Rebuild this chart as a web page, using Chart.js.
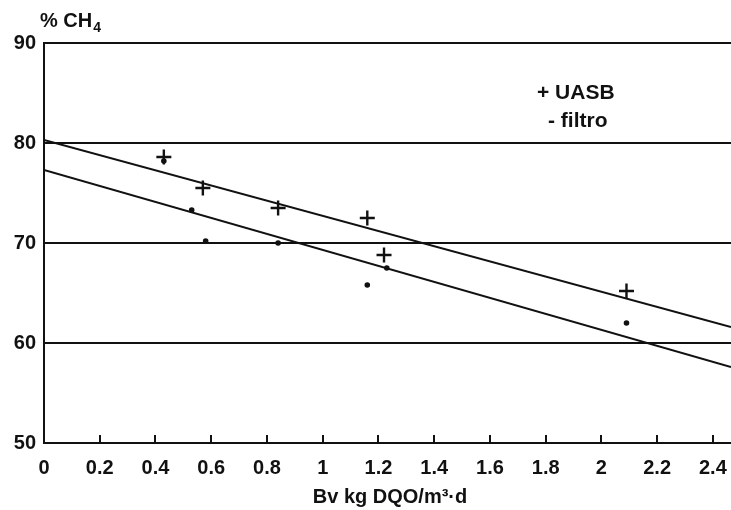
<!DOCTYPE html>
<html><head><meta charset="utf-8">
<script src="https://cdn.jsdelivr.net/npm/chart.js@4"></script>
<style>html,body{margin:0;padding:0;background:#fff}#wrap{width:731px;height:510px;position:relative}</style>
</head><body><div id="wrap"><canvas id="c"></canvas></div>
<script>
// Data
const uasbX = [0.43, 0.57, 0.84, 1.16, 1.22, 2.09];
const uasbY = [78.6, 75.5, 73.5, 72.5, 68.8, 65.2];
const filtroX = [0.43, 0.53, 0.58, 0.84, 1.16, 1.23, 2.09];
const filtroY = [78.2, 73.3, 70.2, 70.0, 65.8, 67.5, 62.0];
// Regression lines (end points)
const uasbFitX = [0, 2.465];
const uasbFitY = [80.3, 61.6];
const filtroFitX = [0, 2.465];
const filtroFitY = [77.3, 57.6];
const yTickValues = [50, 60, 70, 80, 90];
const xTickStep = 0.2;
const yLabel = ["% CH", "4"];
const xLabel = "Bv kg DQO/m\u00B3\u00B7d";
const legendLines = ["+ UASB", "- filtro"];

const toPts = (xs, ys) => xs.map((x, i) => ({x, y: ys[i]}));
const INK = '#111';
const FONT = '"Liberation Sans", Arial, sans-serif';

const decor = {
  id: 'decor',
  afterDraw(chart) {
    const ctx = chart.ctx, xs = chart.scales.x, ca = chart.chartArea;
    ctx.save();
    // inward x ticks
    ctx.strokeStyle = INK; ctx.lineWidth = 2;
    xs.ticks.forEach(t => {
      if (t.value === 0) return;
      const px = Math.round(xs.getPixelForValue(t.value));
      ctx.beginPath(); ctx.moveTo(px, ca.bottom); ctx.lineTo(px, ca.bottom - 8); ctx.stroke();
    });
    ctx.fillStyle = INK;
    // y axis label with subscript
    ctx.textBaseline = 'alphabetic'; ctx.textAlign = 'left';
    ctx.font = 'bold 20px ' + FONT;
    ctx.fillText(yLabel[0], 40, 27);
    const w = ctx.measureText(yLabel[0]).width;
    ctx.font = 'bold 14px ' + FONT;
    ctx.fillText(yLabel[1], 40 + w + 1, 32);
    // legend text
    ctx.font = 'bold 21px ' + FONT;
    ctx.textBaseline = 'middle';
    ctx.fillText(legendLines[0], 537, 93);
    ctx.fillText(legendLines[1], 548, 121);
    // x title
    ctx.font = 'bold 20px ' + FONT;
    ctx.textAlign = 'center';
    ctx.fillText(xLabel, 390, 497);
    ctx.restore();
  }
};

new Chart(document.getElementById('c'), {
  type: 'scatter',
  data: {
    datasets: [
      {label: 'UASB fit', data: toPts(uasbFitX, uasbFitY), showLine: true, borderColor: INK, borderWidth: 2, pointRadius: 0, fill: false},
      {label: 'filtro fit', data: toPts(filtroFitX, filtroFitY), showLine: true, borderColor: INK, borderWidth: 2, pointRadius: 0, fill: false},
      {label: 'UASB', data: toPts(uasbX, uasbY), pointStyle: 'cross', pointRadius: 7.5, borderColor: INK, borderWidth: 2.4, backgroundColor: INK},
      {label: 'filtro', data: toPts(filtroX, filtroY), pointStyle: 'circle', pointRadius: 2.8, borderWidth: 0, backgroundColor: INK}
    ]
  },
  options: {
    responsive: true, maintainAspectRatio: false, animation: false,
    layout: {autoPadding: false, padding: {top: 43, left: 0, right: 0, bottom: 0}},
    plugins: {legend: {display: false}, tooltip: {enabled: false}},
    scales: {
      x: {
        type: 'linear', min: 0, max: 2.465,
        afterFit: s => { s.height = 67; s.paddingRight = 0; s.paddingLeft = 0; },
        grid: {display: false, drawTicks: false},
        border: {display: true, color: INK, width: 2},
        ticks: {
          stepSize: xTickStep, includeBounds: false, padding: 13, color: INK,
          font: {family: FONT, size: 20, weight: 'bold'},
          maxRotation: 0, autoSkip: false,
          callback: v => String(parseFloat(Number(v).toFixed(1)))
        }
      },
      y: {
        type: 'linear', min: 50, max: 90,
        afterFit: s => { s.width = 44; },
        afterBuildTicks: s => { s.ticks = yTickValues.map(v => ({value: v})); },
        grid: {color: INK, lineWidth: 2, drawTicks: false},
        border: {display: true, color: INK, width: 2},
        ticks: {padding: 8, color: INK, font: {family: FONT, size: 20, weight: 'bold'}}
      }
    }
  },
  plugins: [decor]
});
</script>
</body></html>
